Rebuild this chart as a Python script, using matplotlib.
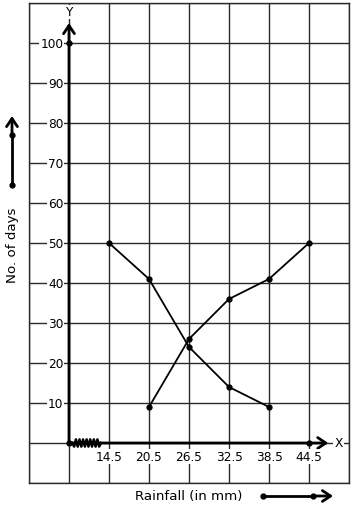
import numpy as np
import matplotlib.pyplot as plt

# data
rain = [14.5, 20.5, 26.5, 32.5, 38.5, 44.5]
days_a = [50, 41, 24, 14, 9]          # first curve, 14.5 .. 38.5
days_b = [9, 26, 36, 41, 50]          # second curve, 20.5 .. 44.5
y_ticks = [10, 20, 30, 40, 50, 60, 70, 80, 90, 100]

origin_x = 8.5   # broken axis origin
step = 6

# figure and axis (grid box in pixels: x 29..349, y 4..484)
fig = plt.figure(figsize=(3.54, 5.10), dpi=100)
ax = fig.add_axes([29 / 354, 26 / 510, 320 / 354, 480 / 510])
ax.set_xlim(origin_x - step, origin_x + 7 * step)
ax.set_ylim(-10, 110)

# grid
ax.set_xticks(np.arange(origin_x - step, origin_x + 7.5 * step, step))
ax.set_yticks(np.arange(-10, 111, 10))
ax.grid(True, color='#2a2a2a', linewidth=1)
ax.tick_params(length=0, labelbottom=False, labelleft=False)
for s in ax.spines.values():
    s.set_color('#2a2a2a')
    s.set_linewidth(1)

# axes with arrows
arrow = dict(arrowstyle='->, head_length=0.45, head_width=0.3', lw=2, color='black',
             mutation_scale=13, shrinkA=0, shrinkB=0)
ax.annotate('', xy=(origin_x, 105), xytext=(origin_x, 0), arrowprops=arrow)
ax.annotate('', xy=(47.4, 0), xytext=(origin_x, 0), arrowprops=arrow)
ax.text(origin_x + 0.1, 107.8, 'Y', ha='center', va='center', fontsize=8.7, zorder=4,
        bbox=dict(facecolor='white', edgecolor='none', pad=0.5))
ax.text(48.9, 0, 'X', ha='center', va='center', fontsize=8.7,
        bbox=dict(facecolor='white', edgecolor='none', pad=1))
ax.plot([origin_x, origin_x, 44.5], [0, 100, 0], 'o', color='black', ms=3.5, zorder=5)

# zigzag for the axis break
zx = np.linspace(9.0, 13.3, 17)
zy = np.array([0] + [-0.9, 0.9] * 7 + [-0.9, 0])
ax.plot(zx, zy, color='black', lw=1.8, zorder=4)

# tick labels
for v in y_ticks:
    ax.text(origin_x - 0.85, v, str(v), ha='right', va='center', fontsize=8.7,
            bbox=dict(facecolor='white', edgecolor='none', pad=0.6), zorder=3)
for r in rain:
    ax.text(r, -3.3, str(r), ha='center', va='center', fontsize=8.7,
            bbox=dict(facecolor='white', edgecolor='none', pad=0.6), zorder=3)

# curves
ax.plot(rain[:5], days_a, '-o', color='black', lw=1.3, ms=3.5, zorder=6)
ax.plot(rain[1:], days_b, '-o', color='black', lw=1.3, ms=3.5, zorder=6)

# axis titles with arrows outside the grid
fig.text(13 / 354, 1 - 245 / 510, 'No. of days', rotation=90, ha='center', va='center', fontsize=9.6)
fig.text(189 / 354, 1 - 497 / 510, 'Rainfall (in mm)', ha='center', va='center', fontsize=9.6)
fig.add_artist(plt.Line2D([12 / 354, 12 / 354], [1 - 186 / 510, 1 - 136 / 510], marker='o',
                          ms=3.5, color='black', lw=2))
ax.annotate('', xy=(12 / 354, 1 - 117 / 510), xytext=(12 / 354, 1 - 136 / 510),
            xycoords='figure fraction', textcoords='figure fraction', arrowprops=arrow,
            annotation_clip=False)
fig.add_artist(plt.Line2D([263 / 354, 313 / 354], [1 - 497 / 510, 1 - 497 / 510], marker='o',
                          ms=3.5, color='black', lw=2))
ax.annotate('', xy=(333 / 354, 1 - 497 / 510), xytext=(313 / 354, 1 - 497 / 510),
            xycoords='figure fraction', textcoords='figure fraction', arrowprops=arrow,
            annotation_clip=False)

plt.savefig('out.png', dpi=100)
plt.close()
